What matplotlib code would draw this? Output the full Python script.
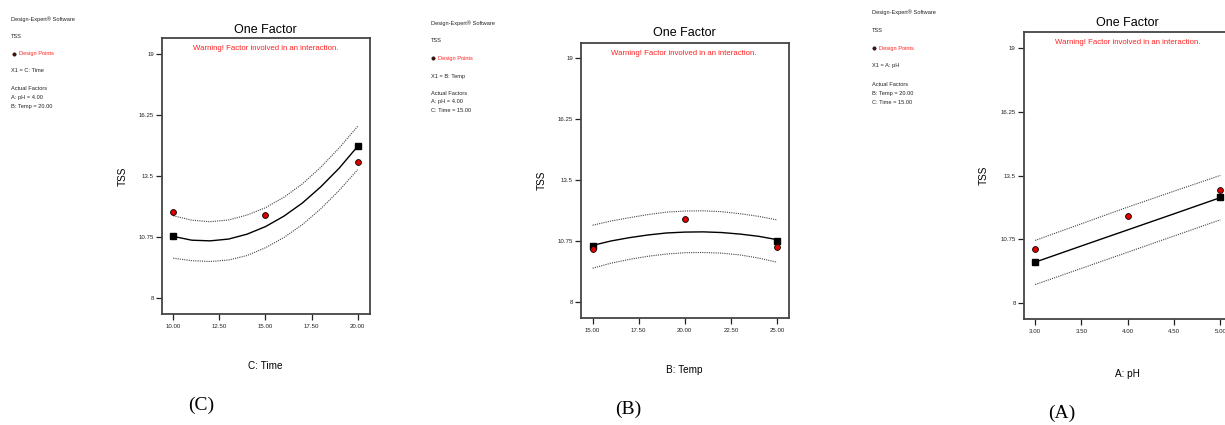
import matplotlib
matplotlib.use("Agg")
import matplotlib.pyplot as plt
from matplotlib.lines import Line2D
from matplotlib import font_manager as fm

# ---------------- data ----------------
# Panel (C): X1 = C: Time
time_x = [10, 11, 12, 13, 14, 15, 16, 17, 18, 19, 20]
time_fit = [10.79, 10.62, 10.59, 10.67, 10.89, 11.23, 11.70, 12.29, 13.02, 13.86, 14.84]
time_upper = [11.72, 11.52, 11.45, 11.53, 11.75, 12.08, 12.55, 13.15, 13.90, 14.77, 15.74]
time_lower = [9.81, 9.70, 9.66, 9.73, 9.93, 10.28, 10.74, 11.32, 12.03, 12.86, 13.79]
time_pts_x = [10, 15, 20]
time_pts_y = [11.91, 11.76, 14.14]
time_sq_x = [10, 20]
time_sq_y = [10.79, 14.84]
time_ticks = [10.0, 12.5, 15.0, 17.5, 20.0]

# Panel (B): X1 = B: Temp
temp_x = [15, 16, 17, 18, 19, 20, 21, 22, 23, 24, 25]
temp_fit = [10.56, 10.76, 10.91, 11.03, 11.12, 11.16, 11.17, 11.14, 11.07, 10.97, 10.82]
temp_upper = [11.47, 11.66, 11.81, 11.95, 12.06, 12.11, 12.12, 12.08, 11.99, 11.87, 11.71]
temp_lower = [9.53, 9.76, 9.93, 10.07, 10.17, 10.23, 10.24, 10.21, 10.13, 9.99, 9.80]
temp_pts_x = [15, 20, 25]
temp_pts_y = [10.42, 11.74, 10.48]
temp_sq_x = [15, 25]
temp_sq_y = [10.55, 10.78]
temp_ticks = [15.0, 17.5, 20.0, 22.5, 25.0]

# Panel (A): X1 = A: pH
ph_x = [3.0, 3.5, 4.0, 4.5, 5.0]
ph_fit = [9.76, 10.46, 11.155, 11.85, 12.55]
ph_upper = [10.70, 11.42, 12.14, 12.83, 13.51]
ph_lower = [8.79, 9.49, 10.19, 10.89, 11.59]
ph_pts_x = [3, 4, 5]
ph_pts_y = [10.31, 11.74, 12.89]
ph_sq_x = [3, 5]
ph_sq_y = [9.76, 12.58]
ph_ticks = [3.0, 3.5, 4.0, 4.5, 5.0]

y_ticks = [8, 10.75, 13.5, 16.25, 19]
y_tick_labels = ["8", "10.75", "13.5", "16.25", "19"]

side_texts = {
    "C": ["X1 = C: Time", "A: pH = 4.00", "B: Temp = 20.00"],
    "B": ["X1 = B: Temp", "A: pH = 4.00", "C: Time = 15.00"],
    "A": ["X1 = A: pH", "B: Temp = 20.00", "C: Time = 15.00"],
}
xlabels = {"C": "C: Time", "B": "B: Temp", "A": "A: pH"}

# ---------------- style ----------------
names = {f.name for f in fm.fontManager.ttflist}
SANS = "Liberation Sans Narrow" if "Liberation Sans Narrow" in names else "Liberation Sans"
SERIF = "Liberation Serif"

W, H = 1225, 425
fig = plt.figure(figsize=(W / 100, H / 100), dpi=100)
fig.patch.set_facecolor("white")

def fx(x):
    return x / W

def fy(y):
    return 1 - y / H

RED = "#ff2020"

def panel(key, rect, xlim, xdata, fit, up, lo, px, py, sx, sy, xticks,
          side_x, side_ys, title_xy, warn_xy, ylab_xy, xlab_xy, cap_xy):
    l, r, t, b = rect
    ax = fig.add_axes([fx(l), fy(b), fx(r - l), (b - t) / H])
    ax.set_xlim(*xlim)
    ax.set_ylim(7.3, 19.7)
    ax.plot(xdata, fit, color="black", lw=1.0, zorder=3)
    ax.plot(xdata, up, color="#444444", lw=0.8, ls=(0, (1, 1)), zorder=2)
    ax.plot(xdata, lo, color="#444444", lw=0.8, ls=(0, (1, 1)), zorder=2)
    ax.plot(sx, sy, ls="none", marker="s", ms=4, color="black", zorder=4)
    ax.plot(px, py, ls="none", marker="o", ms=4.2, mfc="#e00000", mec="black",
            mew=0.6, zorder=5)
    ax.set_xticks(xticks)
    ax.set_xticklabels([f"{v:.2f}" for v in xticks])
    ax.set_yticks(y_ticks)
    ax.set_yticklabels(y_tick_labels)
    ax.tick_params(axis="both", direction="out", labelsize=4.4, colors="#222222",
                   width=0.9)
    ax.tick_params(axis="y", length=4.3, pad=1.5)
    ax.tick_params(axis="x", length=4.0, pad=3.5)
    for lab in ax.get_xticklabels() + ax.get_yticklabels():
        lab.set_fontfamily(SANS)
    for s in ax.spines.values():
        s.set_color("#444444")
        s.set_linewidth(1.3)
    # texts
    fig.text(fx(title_xy[0]), fy(title_xy[1]), "One Factor", ha="center", va="center",
             fontsize=9, family=SANS, color="black")
    fig.text(fx(warn_xy[0]), fy(warn_xy[1]), "Warning! Factor involved in an interaction.",
             ha="center", va="center", fontsize=5.6, family=SANS, color=RED)
    fig.text(fx(ylab_xy[0]), fy(ylab_xy[1]), "TSS", ha="center", va="center",
             rotation=90, fontsize=7.2, family=SANS, color="black")
    fig.text(fx(xlab_xy[0]), fy(xlab_xy[1]), xlabels[key], ha="center", va="center",
             fontsize=7.2, family=SANS, color="black")
    fig.text(fx(cap_xy[0]), fy(cap_xy[1]), f"({key})", ha="center", va="center",
             fontsize=14, family=SERIF, color="black")
    # side info
    st = side_texts[key]
    fs = 4.1
    fig.text(fx(side_x), fy(side_ys[0]), "Design-Expert\u00ae Software", ha="left",
             va="center", fontsize=fs, family=SANS, color="#222222")
    fig.text(fx(side_x), fy(side_ys[1]), "TSS", ha="left", va="center", fontsize=fs,
             family=SANS, color="#222222")
    fig.add_artist(Line2D([fx(side_x + 2.4)], [fy(side_ys[2] - 0.5)], marker="o", ms=2.4,
                          mfc="#551010", mec="black", mew=0.4, ls="none",
                          transform=fig.transFigure))
    fig.text(fx(side_x + 7.4), fy(side_ys[2]), "Design Points", ha="left", va="center",
             fontsize=fs, family=SANS, color=RED)
    fig.text(fx(side_x), fy(side_ys[3]), st[0], ha="left", va="center", fontsize=fs,
             family=SANS, color="#222222")
    fig.text(fx(side_x), fy(side_ys[4]), "Actual Factors", ha="left", va="center",
             fontsize=fs, family=SANS, color="#222222")
    fig.text(fx(side_x), fy(side_ys[5]), st[1], ha="left", va="center", fontsize=fs,
             family=SANS, color="#222222")
    fig.text(fx(side_x), fy(side_ys[6]), st[2], ha="left", va="center", fontsize=fs,
             family=SANS, color="#222222")
    return ax

panel("C", (162, 370, 38.3, 314), (9.39, 20.67), time_x, time_fit, time_upper, time_lower,
      time_pts_x, time_pts_y, time_sq_x, time_sq_y, time_ticks,
      11.3, [19.3, 37, 54, 71, 89, 98, 106.3],
      (265, 30), (265.7, 48), (122.7, 176.7), (265, 365.7), (201, 405))

panel("B", (581, 789, 42.7, 317.7), (14.37, 25.65), temp_x, temp_fit, temp_upper, temp_lower,
      temp_pts_x, temp_pts_y, temp_sq_x, temp_sq_y, temp_ticks,
      430.7, [23.3, 41, 58.3, 76.3, 93.3, 102, 110.3],
      (684, 33.3), (684, 53.3), (541.7, 180), (684, 370), (628.3, 409.3))

panel("A", (1023.7, 1232, 32.3, 319), (2.876, 5.126), ph_x, ph_fit, ph_upper, ph_lower,
      ph_pts_x, ph_pts_y, ph_sq_x, ph_sq_y, ph_ticks,
      872, [12.3, 30, 48.3, 66, 85, 94, 103],
      (1127.7, 23.3), (1127.7, 42.3), (984, 175), (1127.7, 374), (1061.7, 413.3))

fig.savefig("out.png", dpi=100, facecolor="white")
